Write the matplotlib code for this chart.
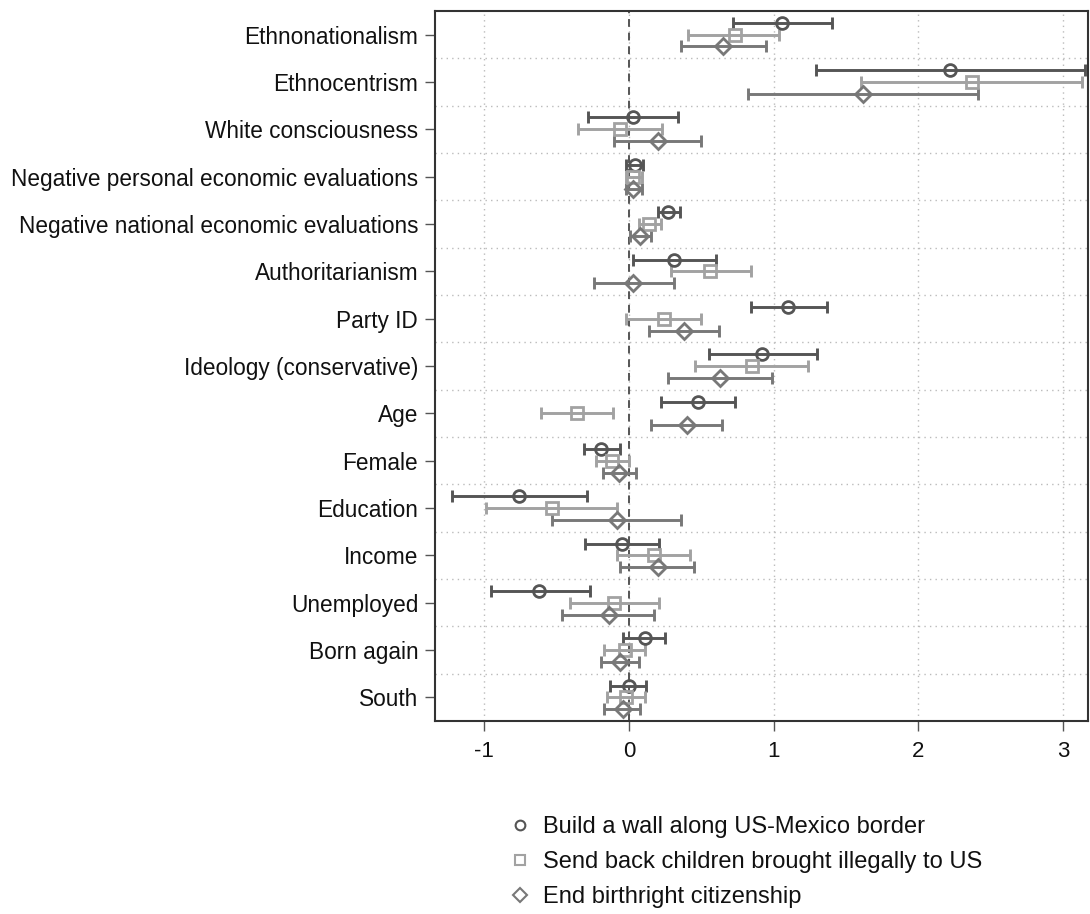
import matplotlib
matplotlib.use("Agg")
import matplotlib.pyplot as plt
from matplotlib.lines import Line2D
import numpy as np

plt.rcParams['font.family'] = ['Liberation Sans', 'DejaVu Sans']

categories = ["Ethnonationalism", "Ethnocentrism", "White consciousness",
              "Negative personal economic evaluations",
              "Negative national economic evaluations", "Authoritarianism",
              "Party ID", "Ideology (conservative)", "Age", "Female",
              "Education", "Income", "Unemployed", "Born again", "South"]

series_names = ["Build a wall along US-Mexico border",
                "Send back children brought illegally to US",
                "End birthright citizenship"]

wall_est = [1.06, 2.22, 0.03, 0.04, 0.27, 0.31, 1.10, 0.92, 0.48, -0.19,
            -0.76, -0.05, -0.62, 0.11, 0.00]
wall_lo = [0.72, 1.29, -0.28, -0.02, 0.20, 0.03, 0.84, 0.55, 0.22, -0.31,
           -1.22, -0.30, -0.95, -0.04, -0.13]
wall_hi = [1.40, 3.15, 0.34, 0.10, 0.35, 0.60, 1.37, 1.30, 0.73, -0.06,
           -0.29, 0.21, -0.27, 0.25, 0.12]

kids_est = [0.73, 2.37, -0.06, 0.03, 0.14, 0.56, 0.24, 0.85, -0.36, -0.12,
            -0.53, 0.17, -0.10, -0.03, -0.02]
kids_lo = [0.41, 1.60, -0.35, -0.02, 0.07, 0.29, -0.02, 0.46, -0.61, -0.23,
           -0.99, -0.08, -0.41, -0.17, -0.15]
kids_hi = [1.04, 3.13, 0.23, 0.09, 0.22, 0.84, 0.50, 1.24, -0.11, 0.00,
           -0.08, 0.42, 0.21, 0.11, 0.11]

birth_est = [0.65, 1.62, 0.20, 0.03, 0.08, 0.03, 0.38, 0.63, 0.40, -0.07,
             -0.08, 0.20, -0.14, -0.06, -0.04]
birth_lo = [0.36, 0.82, -0.10, -0.02, 0.01, -0.24, 0.14, 0.27, 0.15, -0.18,
            -0.53, -0.06, -0.46, -0.19, -0.17]
birth_hi = [0.95, 2.41, 0.50, 0.09, 0.15, 0.31, 0.62, 0.99, 0.64, 0.05,
            0.36, 0.45, 0.17, 0.07, 0.08]

x_ticks = [-1, 0, 1, 2, 3]

fig = plt.figure(figsize=(10.9, 9.14), dpi=100)
ax = fig.add_axes([0.399, 0.211, 0.599, 0.777])

y = np.arange(len(categories))
specs = [
    (wall_est, wall_lo, wall_hi, 'o', '#555555', -0.25),
    (kids_est, kids_lo, kids_hi, 's', '#a2a2a2', 0.0),
    (birth_est, birth_lo, birth_hi, 'D', '#787878', 0.25),
]
handles = []
for (est, lo, hi, m, c, off), name in zip(specs, series_names):
    est = np.array(est); lo = np.array(lo); hi = np.array(hi)
    ms = 8.5 if m != 'D' else 8.5
    ax.errorbar(est, y + off, xerr=[est - lo, hi - est], fmt='none',
                ecolor=c, elinewidth=2.1, capsize=4.2, capthick=2.1, zorder=3)
    ax.plot(est, y + off, linestyle='none', marker=m, markersize=ms,
            markerfacecolor='none', markeredgecolor=c, markeredgewidth=2.0,
            zorder=4)
    handles.append(Line2D([], [], linestyle='none', marker=m,
                          markersize=7 if m != 'D' else 7,
                          markerfacecolor='none', markeredgecolor=c,
                          markeredgewidth=1.5, label=name))

ax.axvline(0, color='#555555', linestyle=(0, (4, 3)), linewidth=1.4, zorder=2)

ax.set_xlim(-1.34, 3.17)
ax.set_ylim(len(categories) - 0.5, -0.5)
ax.set_yticks(y)
ax.set_yticklabels(categories)
ax.set_xticks(x_ticks)
ax.set_xticklabels([str(t) for t in x_ticks])
ax.set_yticks(np.arange(len(categories) - 1) + 0.5, minor=True)
ax.tick_params(axis='y', which='minor', length=0)
ax.tick_params(axis='y', which='major', labelsize=16.3, length=7,
               width=1, color='#555555', pad=5, labelcolor='#111111')
ax.tick_params(axis='x', which='major', labelsize=16, length=7,
               width=1, color='#555555', pad=7, labelcolor='#111111')
ax.grid(True, axis='x', which='major', linestyle=(0, (1, 3)),
        color='#bbbbbb', linewidth=1)
ax.grid(True, axis='y', which='minor', linestyle=(0, (1, 3)),
        color='#bbbbbb', linewidth=1)
ax.set_axisbelow(True)
for s in ax.spines.values():
    s.set_color('#333333')
    s.set_linewidth(1.5)

fig.legend(handles=handles, loc='upper left', bbox_to_anchor=(0.455, 0.1175),
           frameon=False, fontsize=17, handletextpad=0.4, labelspacing=0.55,
           handlelength=1.2, borderaxespad=0, labelcolor='#111111')

fig.savefig('out.png', dpi=100, facecolor='white')
